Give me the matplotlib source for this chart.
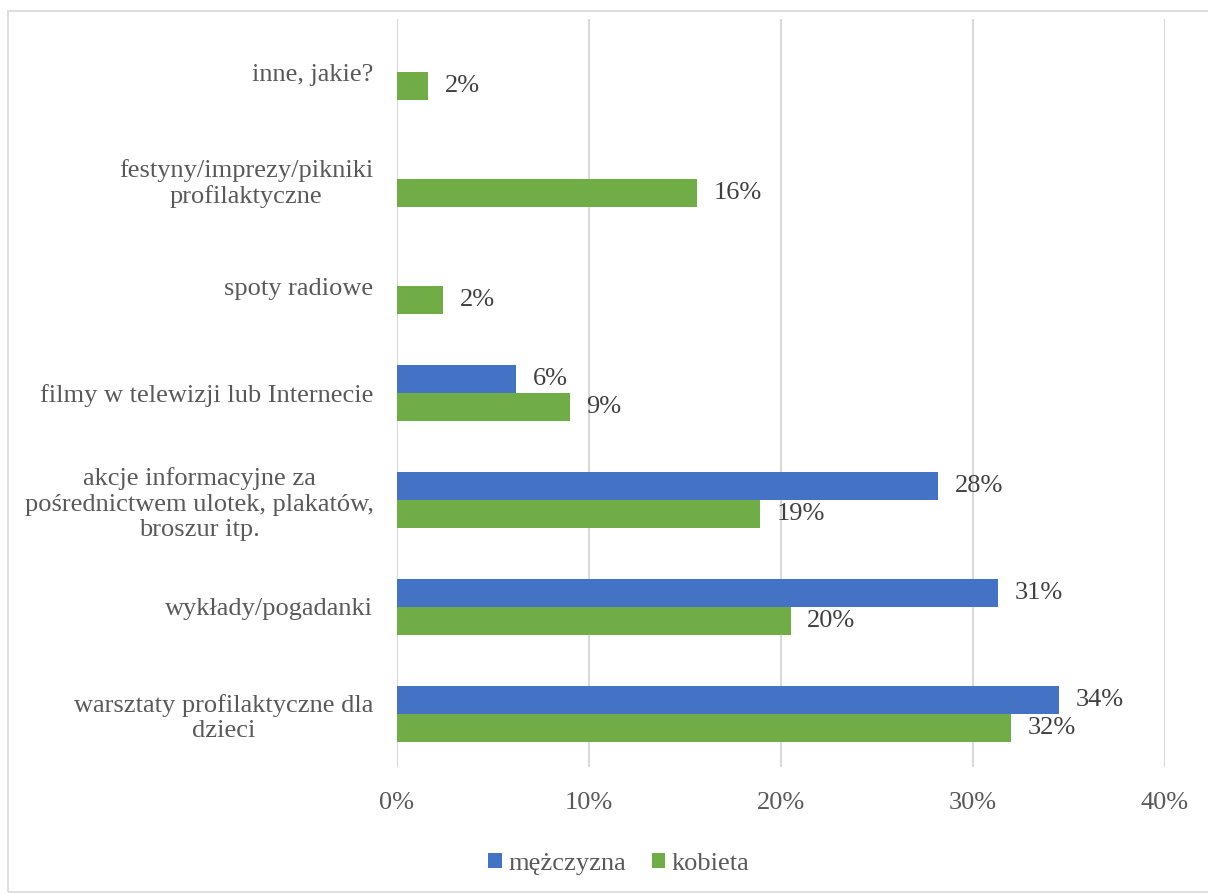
import matplotlib.pyplot as plt
import numpy as np
from matplotlib.patches import Rectangle

kategorie = ["warsztaty profilaktyczne dla\ndzieci",
             "wykłady/pogadanki",
             "akcje informacyjne za\npośrednictwem ulotek, plakatów,\nbroszur itp.",
             "filmy w telewizji lub Internecie",
             "spoty radiowe",
             "festyny/imprezy/pikniki\nprofilaktyczne",
             "inne, jakie?"]
mezczyzna = [34.5, 31.3, 28.2, 6.2, np.nan, np.nan, np.nan]
kobieta = [32.0, 20.5, 18.9, 9.0, 2.4, 15.6, 1.6]
etykiety_m = ["34%", "31%", "28%", "6%", "", "", ""]
etykiety_k = ["32%", "20%", "19%", "9%", "2%", "16%", "2%"]

plt.rcParams['font.family'] = ['Liberation Serif', 'DejaVu Serif']
fs = 19
fig = plt.figure(figsize=(12.08, 8.94), dpi=100)
ax = fig.add_axes([397/1208, 1-767/894, (1165-397)/1208, (767-19)/894])

# ramka wokol wykresu
fig.patches.append(Rectangle((8/1208, 0.002), 1.2, 1-11/894-0.002, transform=fig.transFigure,
                             fill=False, edgecolor="#d9d9d9", linewidth=1.2))

y = np.arange(len(kategorie))
h = 0.262
bm = ax.barh(y + h/2, mezczyzna, height=h, color="#4472C4", label="mężczyzna")
bk = ax.barh(y - h/2, kobieta, height=h, color="#70AD47", label="kobieta")
ax.bar_label(bm, labels=etykiety_m, padding=12, fontsize=fs, color="#404040")
ax.bar_label(bk, labels=etykiety_k, padding=12, fontsize=fs, color="#404040")

ax.set_xlim(0, 40)
ax.set_ylim(-0.5, len(kategorie) - 0.5)
ax.set_xticks([0, 10, 20, 30, 40])
ax.set_xticklabels(["0%", "10%", "20%", "30%", "40%"])
ax.set_yticks(y)
ax.set_yticklabels(kategorie, linespacing=1.2, multialignment="center")
ax.tick_params(axis="both", length=0, labelsize=fs, labelcolor="#595959")
ax.tick_params(axis="y", pad=17)
ax.tick_params(axis="x", pad=18)
ax.grid(axis="x", color="#d9d9d9", linewidth=1.5)
ax.set_axisbelow(True)
for s in ax.spines.values():
    s.set_visible(False)

fig.legend(loc="center", bbox_to_anchor=(619/1208, 1-864/894), ncol=2, frameon=False,
           fontsize=fs, labelcolor="#595959", handlelength=0.52, handleheight=0.52,
           handletextpad=0.25, columnspacing=0.95)

fig.savefig("out.png")
